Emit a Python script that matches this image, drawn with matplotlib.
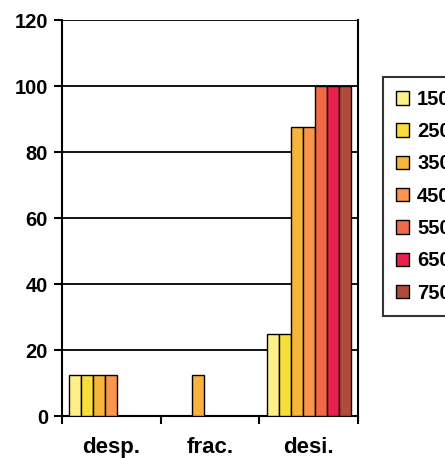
import numpy as np
import matplotlib
matplotlib.use('Agg')
import matplotlib.pyplot as plt
from matplotlib.patches import Patch

plt.rcParams['font.family'] = ['Liberation Sans', 'DejaVu Sans']
plt.rcParams['font.weight'] = 'bold'

# カテゴリと系列
categories = ['desp.', 'frac.', 'desi.']
series = ['150', '250', '350', '450', '550', '650', '750']
values = [
    [12.5, 0, 25],
    [12.5, 0, 25],
    [12.5, 12.5, 87.5],
    [12.5, 0, 87.5],
    [0, 0, 100],
    [0, 0, 100],
    [0, 0, 100],
]
colors = ['#fdf08a', '#f7de3c', '#f7b43c', '#f7964c', '#f06a48', '#e8204c', '#b04a3a']

fig = plt.figure(figsize=(4.45, 4.58), dpi=100)
ax = fig.add_axes([62 / 445, 42 / 458, 296 / 445, 396 / 458])

n = len(series)
bw = 0.122
x = np.arange(len(categories))
for i in range(n):
    pos = x + (i - (n - 1) / 2) * bw
    ax.bar(pos, values[i], width=bw, color=colors[i], edgecolor='black',
           linewidth=1.0, zorder=3)

ax.set_xlim(-0.5, len(categories) - 0.5)
ax.set_ylim(0, 120)
ax.set_yticks(np.arange(0, 121, 20))
ax.tick_params(axis='y', labelsize=14.5, length=6, width=1.5, pad=4)

# 目盛りはカテゴリの境界、ラベルは中央
ax.set_xticks(np.arange(-0.5, len(categories), 1.0))
ax.set_xticklabels([])
ax.set_xticks(x, minor=True)
ax.set_xticklabels(categories, minor=True, fontsize=16)
ax.tick_params(axis='x', which='major', length=6, width=1.5)
ax.tick_params(axis='x', which='minor', length=0, pad=15)

ax.grid(axis='y', color='black', linewidth=1.3, zorder=0)
ax.set_axisbelow(True)
for s in ['left', 'right', 'bottom', 'top']:
    ax.spines[s].set_linewidth(1.5)
ax.spines['top'].set_visible(False)

handles = [Patch(facecolor=c, edgecolor='black', linewidth=1.0) for c in colors]
leg = fig.legend(handles, series, loc='upper left',
                 bbox_to_anchor=(383 / 445, 1 - 77 / 458),
                 fontsize=14.5, frameon=True, fancybox=False,
                 handlelength=0.65, handleheight=0.65, handletextpad=0.4,
                 labelspacing=0.66, borderpad=0.64, borderaxespad=0)
leg.get_frame().set_edgecolor('black')
leg.get_frame().set_linewidth(1.5)

fig.savefig('out.png', dpi=100)
